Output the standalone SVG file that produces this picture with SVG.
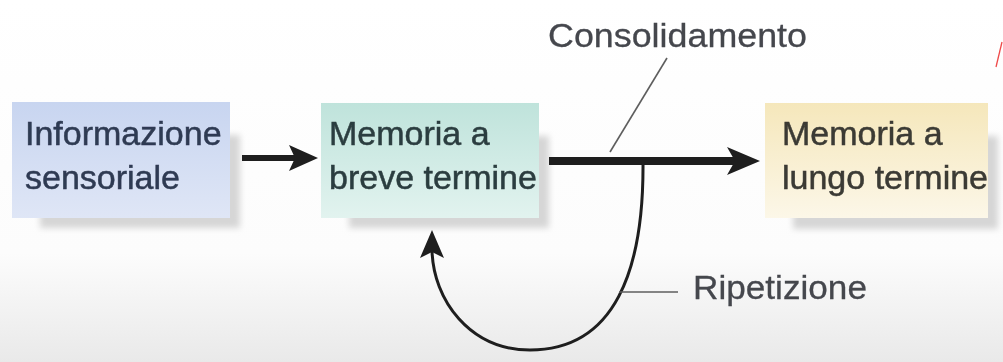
<svg xmlns="http://www.w3.org/2000/svg" width="1003" height="362" viewBox="0 0 1003 362">
  <defs>
    <linearGradient id="bg" x1="0" y1="0" x2="0" y2="362" gradientUnits="userSpaceOnUse">
      <stop offset="0" stop-color="#ffffff"/>
      <stop offset="0.7" stop-color="#fcfcfc"/>
      <stop offset="1" stop-color="#e9e9e9"/>
    </linearGradient>
    <linearGradient id="gBlue" x1="0" y1="0" x2="0" y2="1">
      <stop offset="0" stop-color="#c8d5f0"/>
      <stop offset="1" stop-color="#dfe6f6"/>
    </linearGradient>
    <linearGradient id="gTeal" x1="0" y1="0" x2="0" y2="1">
      <stop offset="0" stop-color="#bfe3db"/>
      <stop offset="1" stop-color="#e2f3ef"/>
    </linearGradient>
    <linearGradient id="gYellow" x1="0" y1="0" x2="0" y2="1">
      <stop offset="0" stop-color="#f5e7bb"/>
      <stop offset="1" stop-color="#fcf7e8"/>
    </linearGradient>
    <filter id="soft" x="-20%" y="-20%" width="140%" height="140%">
      <feGaussianBlur stdDeviation="3"/>
    </filter>
    <filter id="tblur" x="-5%" y="-20%" width="110%" height="140%">
      <feGaussianBlur stdDeviation="0.5"/>
    </filter>
  </defs>
  <style>
    .shadow { fill: #d6d6d6; filter: url(#soft); }
    .boxtxt { font-family: "Liberation Sans", Arial, sans-serif; font-size: 34px; stroke-width: 0.5px; filter: url(#tblur); }
    .t1 { fill: #2f3a52; stroke: #2f3a52; }
    .t2 { fill: #2c3d3f; stroke: #2c3d3f; }
    .t3 { fill: #3b3a34; stroke: #3b3a34; }
    .label { font-family: "Liberation Sans", Arial, sans-serif; font-size: 34px; fill: #45474d; stroke: #45474d; stroke-width: 0.3px; filter: url(#tblur); }
    .thick { stroke: #1e1e1e; fill: none; }
    .head { fill: #1e1e1e; }
    .leader { stroke: #5e5e5e; stroke-width: 1.6; fill: none; }
  </style>

  <rect x="0" y="0" width="1003" height="362" fill="url(#bg)"/>

  <g id="node-sensoriale">
    <rect class="shadow" x="40" y="135" width="200" height="93"/>
    <rect x="12" y="102" width="218" height="116" fill="url(#gBlue)"/>
    <text class="boxtxt t1" x="25" y="145">Informazione</text>
    <text class="boxtxt t1" x="25" y="189">sensoriale</text>
  </g>

  <g id="node-breve">
    <rect class="shadow" x="349" y="136" width="200" height="92"/>
    <rect x="321" y="103" width="218" height="115" fill="url(#gTeal)"/>
    <text class="boxtxt t2" x="329" y="145">Memoria a</text>
    <text class="boxtxt t2" x="329" y="189">breve termine</text>
  </g>

  <g id="node-lungo">
    <rect class="shadow" x="793" y="136" width="205" height="93"/>
    <rect x="765" y="103" width="223" height="115" fill="url(#gYellow)"/>
    <text class="boxtxt t3" x="782" y="145">Memoria a</text>
    <text class="boxtxt t3" x="782" y="189">lungo termine</text>
  </g>

  <g id="connectors">
    <!-- sensoriale -> breve -->
    <line class="thick" x1="242" y1="158" x2="300" y2="158" stroke-width="6"/>
    <polygon class="head" points="318,158 289,145 295,158 289,171"/>
    <!-- breve -> lungo -->
    <line class="thick" x1="549" y1="161" x2="740" y2="161" stroke-width="8"/>
    <polygon class="head" points="760,161 727,147 735,161 727,175"/>
    <!-- repetition loop -->
    <path class="thick" stroke-width="3" d="M643,161 C644,270 615,350 530,350 C470,350 433,300 432,250"/>
    <polygon class="head" points="432,230 420,258 432,252 444,258"/>
  </g>

  <g id="label-consolidamento">
    <line class="leader" x1="667" y1="58" x2="610" y2="152"/>
    <text class="label" x="548" y="47" textLength="259" lengthAdjust="spacingAndGlyphs">Consolidamento</text>
  </g>

  <g id="label-ripetizione">
    <line class="leader" x1="619" y1="292" x2="678" y2="292"/>
    <text class="label" x="693" y="299" textLength="174" lengthAdjust="spacingAndGlyphs">Ripetizione</text>
  </g>

  <line x1="996" y1="67" x2="1002" y2="42" stroke="#ef4a4a" stroke-width="1.3"/>
</svg>
